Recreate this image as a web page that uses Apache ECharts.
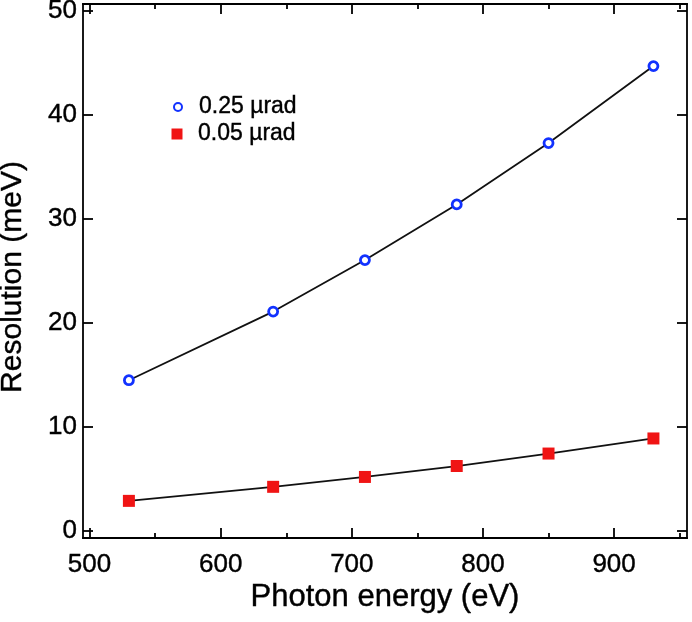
<!DOCTYPE html>
<html><head><meta charset="utf-8">
<script src="https://cdn.jsdelivr.net/npm/echarts@6/dist/echarts.min.js"></script>
<style>html,body{margin:0;padding:0;background:#fff}#c{width:692px;height:622px}</style>
</head><body><div id="c"></div>
<script>
// ---- data ----
const energies = [530, 640, 710, 780, 850, 930];
const res025 = [14.5, 21.1, 26.05, 31.4, 37.3, 44.7];
const res005 = [2.9, 4.25, 5.2, 6.25, 7.45, 8.9];
const seriesNames = ['0.25 µrad', '0.05 µrad'];
const xMajorTicks = [500, 600, 700, 800, 900];
const xMinorTicks = [550, 650, 750, 850, 950];
const yTicks = [0, 10, 20, 30, 40, 50];
const xTitle = 'Photon energy (eV)';
const yTitle = 'Resolution (meV)';

// ---- styling ----
const FONT = "'Liberation Sans', Arial, Helvetica, sans-serif";
const W = 692, G_LEFT = 83, G_RIGHT = 5, G_TOP = 4, G_BOTTOM = 84;
const X_MIN = 495, X_MAX = 955.6, Y_MIN = -0.67, Y_MAX = 50.67;
// label axis spans the full width with the same scale as the plot axis
const pxPerUnit = (W - G_LEFT - G_RIGHT) / (X_MAX - X_MIN);
const X_MIN_LBL = X_MIN - G_LEFT / pxPerUnit;
const BLUE = '#1232ff', RED = '#f01414';
const lineW = 1.8;
const TXT = { color: '#000', fontFamily: FONT, textBorderColor: '#000', textBorderWidth: 0.4 };

function xAx(pos, ticks, len, extra) {
  return Object.assign({
    type: 'value', position: pos, min: X_MIN, max: X_MAX, gridIndex: 0,
    axisLine: { show: true, onZero: false, lineStyle: { color: '#000', width: lineW } },
    axisTick: { show: true, inside: true, length: len, customValues: ticks, lineStyle: { color: '#000', width: lineW } },
    axisLabel: { show: false },
    splitLine: { show: false }
  }, extra || {});
}
function yAx(pos, labels, extra) {
  return Object.assign({
    type: 'value', position: pos, min: Y_MIN, max: Y_MAX, gridIndex: 0,
    axisLine: { show: true, onZero: false, lineStyle: { color: '#000', width: lineW } },
    axisTick: { show: true, inside: true, length: 10, customValues: yTicks, lineStyle: { color: '#000', width: lineW } },
    axisLabel: labels ? Object.assign({ show: true, customValues: yTicks, fontSize: 26, margin: 6, hideOverlap: false }, TXT) : { show: false },
    splitLine: { show: false }
  }, extra || {});
}

const chart = echarts.init(document.getElementById('c'), null, { renderer: 'canvas' });
chart.setOption({
  animation: false,
  backgroundColor: '#fff',
  grid: [
    { left: G_LEFT, right: G_RIGHT, top: G_TOP, bottom: G_BOTTOM, containLabel: false, outerBoundsMode: 'none' },
    { left: 0, right: G_RIGHT, top: G_TOP, bottom: G_BOTTOM, containLabel: false, outerBoundsMode: 'none' }
  ],
  xAxis: [
    xAx('bottom', xMajorTicks, 10, {
      name: xTitle, nameLocation: 'middle', nameGap: 44, nameMoveOverlap: false,
      nameTextStyle: Object.assign({ fontSize: 31 }, TXT)
    }),
    xAx('bottom', xMinorTicks, 5),
    xAx('top', xMajorTicks, 10),
    xAx('top', xMinorTicks, 5),
    {
      type: 'value', gridIndex: 1, position: 'bottom', min: X_MIN_LBL, max: X_MAX,
      axisLine: { show: false }, axisTick: { show: false }, splitLine: { show: false },
      axisLabel: Object.assign({ show: true, customValues: xMajorTicks, fontSize: 26, margin: 14, hideOverlap: false }, TXT)
    }
  ],
  yAxis: [
    yAx('left', true, {
      name: yTitle, nameLocation: 'middle', nameGap: 55, nameMoveOverlap: false,
      nameTextStyle: Object.assign({ fontSize: 30, padding: [0, 12, 0, 0] }, TXT)
    }),
    yAx('right', false),
    { type: 'value', gridIndex: 1, show: false, min: Y_MIN, max: Y_MAX }
  ],
  legend: [
    {
      data: [seriesNames[0]], orient: 'vertical', left: 173, top: 95, padding: 0,
      itemWidth: 8, itemHeight: 8, icon: 'circle',
      textStyle: Object.assign({ fontSize: 23, lineHeight: 24, padding: [0, 0, 0, 12] }, TXT)
    },
    {
      data: [seriesNames[1]], orient: 'vertical', left: 171.5, top: 122, padding: 0,
      itemWidth: 11, itemHeight: 11, icon: 'rect',
      textStyle: Object.assign({ fontSize: 23, lineHeight: 24, padding: [0, 0, 0, 10.5] }, TXT)
    }
  ],
  series: [
    {
      name: seriesNames[0], type: 'line', xAxisIndex: 0, yAxisIndex: 0,
      data: energies.map((e, i) => [e, res025[i]]),
      symbol: 'circle', symbolSize: 9, showAllSymbol: true,
      lineStyle: { color: '#111', width: lineW },
      itemStyle: { color: '#fff', borderColor: BLUE, borderWidth: 2.8 },
      z: 3
    },
    {
      name: seriesNames[1], type: 'line', xAxisIndex: 0, yAxisIndex: 0,
      data: energies.map((e, i) => [e, res005[i]]),
      symbol: 'rect', symbolSize: 12, showAllSymbol: true,
      lineStyle: { color: '#111', width: lineW },
      itemStyle: { color: RED, borderWidth: 0 },
      z: 3
    }
  ]
});
</script></body></html>
